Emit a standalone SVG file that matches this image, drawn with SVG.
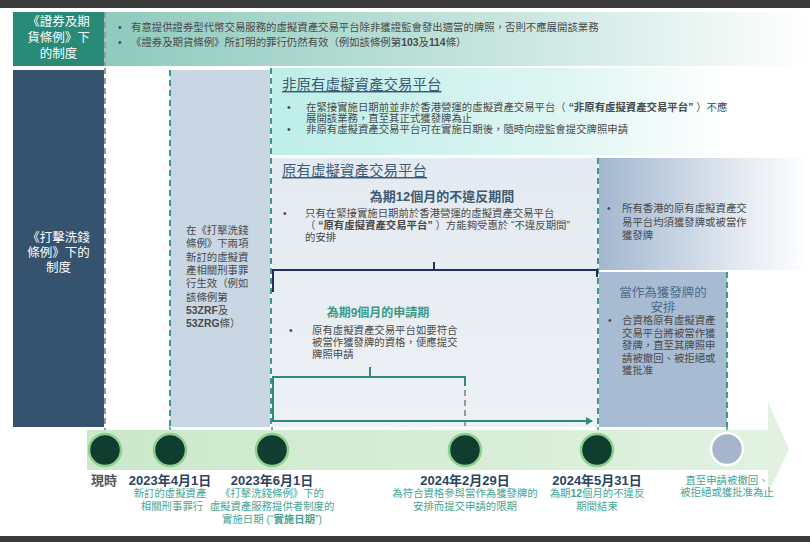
<svg xmlns="http://www.w3.org/2000/svg" width="810" height="542" viewBox="0 0 810 542">
<defs>
<style>
text{font-family:"Liberation Sans","Noto Sans CJK TC",sans-serif}
.b{font-size:10.4px;fill:#4a4a4a}
.w{fill:#ffffff;font-size:12.5px;text-anchor:middle}
.ttl{font-size:14.5px;fill:#3d5a73;text-decoration:underline}
.dash{fill:none;stroke-width:2;stroke-dasharray:6 4}
.dt{stroke:#3a9a88}
.dg{stroke:#9a9a9a}
.date{font-size:13px;font-weight:bold;fill:#2c4460;text-anchor:middle}
.sub{font-size:10.4px;fill:#45a595;text-anchor:middle}
.dot{fill:#0f3d30;stroke:#8fd08f;stroke-width:2.5}
.tick{stroke:#3a9a88;stroke-width:1.5}
</style>
<linearGradient id="gTop" x1="0" x2="1" y1="0" y2="0">
<stop offset="0" stop-color="#8ecabd"/><stop offset="0.6" stop-color="#cbe7e1"/><stop offset="1" stop-color="#ffffff"/>
</linearGradient>
<linearGradient id="gNon" x1="0" x2="1" y1="0" y2="0">
<stop offset="0" stop-color="#bdeee8"/><stop offset="0.55" stop-color="#dff6f3"/><stop offset="0.85" stop-color="#ffffff"/>
</linearGradient>
<linearGradient id="gOrig" x1="0" x2="0" y1="0" y2="1">
<stop offset="0" stop-color="#e4eaf1"/><stop offset="1" stop-color="#edf1f5"/>
</linearGradient>
<linearGradient id="gRight" x1="0" x2="1" y1="0" y2="0">
<stop offset="0" stop-color="#a3b7cf"/><stop offset="0.7" stop-color="#e6ecf3"/><stop offset="1" stop-color="#ffffff"/>
</linearGradient>
<linearGradient id="gBand" x1="0" x2="1" y1="0" y2="0">
<stop offset="0" stop-color="#cbe8cb"/><stop offset="1" stop-color="#e2f2e2"/>
</linearGradient>
<marker id="arrT" markerWidth="8" markerHeight="8" refX="6" refY="4" orient="auto" markerUnits="userSpaceOnUse">
<path d="M0,0 L7,4 L0,8 Z" fill="#2e8b7a"/>
</marker>
</defs>

<rect x="0" y="0" width="810" height="542" fill="#ffffff"/>
<rect x="0" y="0" width="810" height="8" fill="#3a3a3a"/>
<rect x="0" y="536" width="810" height="6" fill="#3a3a3a"/>

<g id="top-band">
<rect x="104" y="12" width="706" height="54" fill="url(#gTop)"/>
<text class="b" x="118" y="31">•</text>
<text class="b" x="131" y="31" font-size="10.6">有意提供證券型代幣交易服務的虛擬資產交易平台除非獲證監會發出適當的牌照，否則不應展開該業務</text>
<text class="b" x="118" y="46">•</text>
<text class="b" x="131" y="46" font-size="10.6">《證券及期貨條例》所訂明的罪行仍然有效（例如該條例第<tspan font-weight="bold">103</tspan>及<tspan font-weight="bold">114</tspan>條）</text>
</g>

<g id="sfo-label">
<rect x="13" y="12" width="91" height="54" fill="#2a8a78"/>
<text class="w" x="58.5" y="26">《證券及期</text>
<text class="w" x="58.5" y="42">貨條例》下</text>
<text class="w" x="58.5" y="58">的制度</text>
</g>

<g id="amlo-label">
<rect x="13" y="70" width="91" height="357" fill="#35536f"/>
<text class="w" x="58.5" y="242">《打擊洗錢</text>
<text class="w" x="58.5" y="257">條例》下的</text>
<text class="w" x="58.5" y="272">制度</text>
</g>

<g id="offences-box">
<rect x="170" y="70" width="100" height="357" fill="#c9d6e3"/>
<text class="b" x="186" y="234" font-size="10.5">在《打擊洗錢</text>
<text class="b" x="186" y="247" font-size="10.5">條例》下兩項</text>
<text class="b" x="186" y="261" font-size="10.5">新訂的虛擬資</text>
<text class="b" x="186" y="274" font-size="10.5">產相關刑事罪</text>
<text class="b" x="186" y="287" font-size="10.5">行生效（例如</text>
<text class="b" x="186" y="301" font-size="10.5">該條例第</text>
<text class="b" x="186" y="314" font-size="10.5"><tspan font-weight="bold">53ZRF</tspan>及</text>
<text class="b" x="186" y="327" font-size="10.5"><tspan font-weight="bold">53ZRG</tspan>條）</text>
</g>

<g id="non-legacy-box">
<rect x="272" y="68" width="538" height="87" fill="url(#gNon)"/>
<text class="ttl" x="282" y="90">非原有虛擬資產交易平台</text>
<text class="b" x="287" y="111">•</text>
<text class="b" x="306" y="111" font-size="10.3">在緊接實施日期前並非於香港營運的虛擬資產交易平台（ <tspan font-weight="bold">“非原有虛擬資產交易平台”</tspan> ）不應</text>
<text class="b" x="306" y="122" font-size="10.3">展開該業務，直至其正式獲發牌為止</text>
<text class="b" x="287" y="133">•</text>
<text class="b" x="306" y="133" font-size="10.3">非原有虛擬資產交易平台可在實施日期後，隨時向證監會提交牌照申請</text>
</g>

<g id="legacy-box">
<rect x="272" y="158" width="326" height="269" fill="url(#gOrig)"/>
<text class="ttl" x="282" y="176">原有虛擬資產交易平台</text>
<text x="442" y="201" font-size="13" font-weight="bold" fill="#3d5a73" text-anchor="middle">為期<tspan>12</tspan>個月的不違反期間</text>
<text class="b" x="283" y="217">•</text>
<text class="b" x="305" y="217" font-size="10.5">只有在緊接實施日期前於香港營運的虛擬資產交易平台</text>
<text class="b" x="305" y="229" font-size="10.5">（ <tspan font-weight="bold">“原有虛擬資產交易平台”</tspan> ）方能夠受惠於 “不違反期間”</text>
<text class="b" x="305" y="241" font-size="10.5">的安排</text>
</g>

<g id="application-period">
<text x="378" y="317" font-size="12" font-weight="bold" fill="#3a9a88" text-anchor="middle">為期9個月的申請期</text>
<text class="b" x="289" y="334">•</text>
<text class="b" x="312" y="334">原有虛擬資產交易平台如要符合</text>
<text class="b" x="312" y="346">被當作獲發牌的資格，便應提交</text>
<text class="b" x="312" y="358">牌照申請</text>
</g>

<g id="all-licensed-box">
<rect x="599" y="158" width="211" height="112" fill="url(#gRight)"/>
<text class="b" x="607" y="212">•</text>
<text class="b" x="622" y="212">所有香港的原有虛擬資產交</text>
<text class="b" x="622" y="226">易平台均須獲發牌或被當作</text>
<text class="b" x="622" y="239">獲發牌</text>
</g>

<g id="deemed-box">
<rect x="599" y="272" width="128" height="155" fill="#a7bbd2"/>
<text x="663" y="297" font-size="12.5" fill="#4f6b8a" text-anchor="middle">當作為獲發牌的</text>
<text x="663" y="312" font-size="12.5" fill="#4f6b8a" text-anchor="middle">安排</text>
<text class="b" x="608" y="324">•</text>
<text class="b" x="622" y="324">合資格原有虛擬資產</text>
<text class="b" x="622" y="337">交易平台將被當作獲</text>
<text class="b" x="622" y="349">發牌，直至其牌照申</text>
<text class="b" x="622" y="362">請被撤回、被拒絕或</text>
<text class="b" x="622" y="374">獲批准</text>
</g>

<g id="connectors">
<line class="dash dg" x1="105" y1="12" x2="105" y2="66"/>
<line class="dash dg" x1="105" y1="68" x2="105" y2="433"/>
<line class="dash dt" x1="170" y1="70" x2="170" y2="427"/>
<line class="dash dt" x1="271" y1="68" x2="271" y2="427"/>
<line class="dash dt" x1="598" y1="158" x2="598" y2="427"/>
<line class="dash dt" x1="727" y1="272" x2="727" y2="427"/>
<line class="dash dg" x1="465" y1="380" x2="465" y2="433"/>
<path d="M273,292 V270 H597 V277 M434,262 V270" fill="none" stroke="#1f2f5a" stroke-width="2"/>
<path d="M370,367 V377 M465,386 V377 H273 V421 H592" fill="none" stroke="#2e8b7a" stroke-width="2" marker-end="url(#arrT)"/>
<line class="tick" x1="170" y1="427" x2="170" y2="433"/>
<line class="tick" x1="272" y1="427" x2="272" y2="433"/>
<line class="tick" x1="598" y1="427" x2="598" y2="433"/>
<line class="tick" x1="727" y1="427" x2="727" y2="433"/>
</g>

<g id="timeline">
<path d="M87,430 H768 V402 L789,449 L768,494 V470 H87 Z" fill="url(#gBand)"/>
<circle class="dot" cx="105" cy="450" r="16"/>
<circle class="dot" cx="170" cy="450" r="16"/>
<circle class="dot" cx="272" cy="450" r="16"/>
<circle class="dot" cx="465" cy="450" r="16"/>
<circle class="dot" cx="597" cy="450" r="16"/>
<circle cx="727" cy="449" r="16" fill="#a4b5cc" stroke="#ffffff" stroke-width="2.5"/>
</g>

<g id="labels">
<text x="104" y="485" font-size="13" font-weight="bold" fill="#555555" text-anchor="middle">現時</text>
<text class="date" x="170" y="485">2023年4月1日</text>
<text class="sub" x="170" y="497">新訂的虛擬資產</text>
<text class="sub" x="172" y="510">相關刑事罪行</text>
<text class="date" x="272" y="485">2023年6月1日</text>
<text class="sub" x="272" y="497">《打擊洗錢條例》下的</text>
<text class="sub" x="272" y="510">虛擬資產服務提供者制度的</text>
<text class="sub" x="272" y="523">實施日期 (“<tspan font-weight="bold">實施日期</tspan>”)</text>
<text class="date" x="465" y="485">2024年2月29日</text>
<text class="sub" x="465" y="497">為符合資格參與當作為獲發牌的</text>
<text class="sub" x="465" y="510">安排而提交申請的限期</text>
<text class="date" x="597" y="485">2024年5月31日</text>
<text class="sub" x="597" y="497">為期<tspan font-weight="bold">12</tspan>個月的不違反</text>
<text class="sub" x="597" y="510">期間結束</text>
<text class="sub" x="727" y="484">直至申請被撤回、</text>
<text class="sub" x="727" y="496">被拒絕或獲批准為止</text>
</g>
</svg>
